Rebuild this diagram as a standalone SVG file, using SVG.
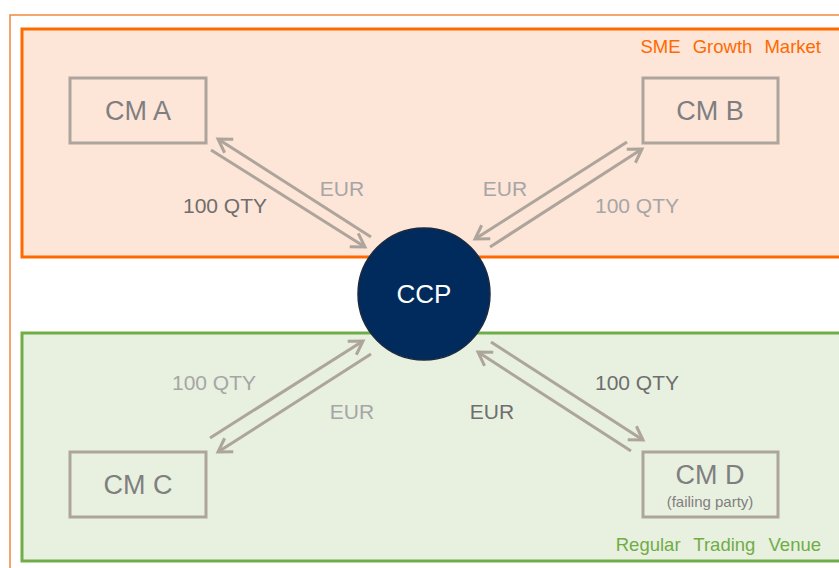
<svg xmlns="http://www.w3.org/2000/svg" width="839" height="568" viewBox="0 0 839 568">
<defs>
<marker id="ah" viewBox="-16 -10 20 20" refX="0" refY="0" markerWidth="20" markerHeight="20" markerUnits="userSpaceOnUse" orient="auto">
<path d="M-13,-8 L0,0 L-13,8" fill="none" stroke="#ADA59B" stroke-width="3"/>
</marker>
<style>
text{font-family:"Liberation Sans",Arial,sans-serif}
.box{fill:none;stroke:#ADA59B;stroke-width:3}
.cm{font-size:27px;fill:#7F7F7F;text-anchor:middle}
.ln{stroke:#ADA59B;stroke-width:3;fill:none;marker-end:url(#ah)}
.lbl{font-size:21px;text-anchor:middle}
.dk{fill:#6E6E6E}
.lt{fill:#A6A6A6}
</style>
</defs>
<rect x="10" y="15" width="840" height="560" fill="#FFFFFF" stroke="#F08A3C" stroke-width="1.5"/>
<g id="sme-zone">
<rect x="22" y="29" width="830" height="228" fill="#FDE5D8" stroke="#FF6A00" stroke-width="3"/>
<text x="821" y="53" font-size="18.5" fill="#FF6A00" text-anchor="end" word-spacing="7">SME Growth Market</text>
</g>
<g id="regular-zone">
<rect x="22" y="333" width="830" height="228" fill="#E8F0E0" stroke="#70AD47" stroke-width="3"/>
<text x="821" y="551" font-size="18.5" fill="#70AD47" text-anchor="end" word-spacing="8">Regular Trading Venue</text>
</g>
<g id="connectors">
<line class="ln" x1="371" y1="237" x2="218" y2="139"/>
<line class="ln" x1="211" y1="150" x2="365" y2="247"/>
<line class="ln" x1="627" y1="142" x2="475" y2="239"/>
<line class="ln" x1="490" y1="247" x2="642" y2="149"/>
<line class="ln" x1="210" y1="438" x2="363" y2="341"/>
<line class="ln" x1="371" y1="354" x2="218" y2="452"/>
<line class="ln" x1="631" y1="451" x2="478" y2="352"/>
<line class="ln" x1="491" y1="342" x2="643" y2="440"/>
<text class="lbl dk" x="225" y="213">100 QTY</text>
<text class="lbl lt" x="342" y="196">EUR</text>
<text class="lbl lt" x="505" y="196">EUR</text>
<text class="lbl lt" x="637" y="213">100 QTY</text>
<text class="lbl lt" x="214" y="390">100 QTY</text>
<text class="lbl lt" x="352" y="419">EUR</text>
<text class="lbl dk" x="637" y="390">100 QTY</text>
<text class="lbl dk" x="492" y="419">EUR</text>
</g>
<g id="cm-a">
<rect class="box" x="70" y="78" width="136" height="65"/>
<text class="cm" x="138" y="120">CM A</text>
</g>
<g id="cm-b">
<rect class="box" x="643" y="78" width="135" height="65"/>
<text class="cm" x="710" y="120">CM B</text>
</g>
<g id="cm-c">
<rect class="box" x="70" y="452" width="136" height="65"/>
<text class="cm" x="138" y="494">CM C</text>
</g>
<g id="cm-d">
<rect class="box" x="643" y="452" width="135" height="65"/>
<text class="cm" x="710" y="484">CM D</text>
<text x="710" y="507" font-size="15" fill="#7F7F7F" text-anchor="middle">(failing party)</text>
</g>
<g id="ccp">
<circle cx="424" cy="294" r="66" fill="#002B5C" stroke="#1B2A3E" stroke-width="1.5"/>
<text x="424" y="303" font-size="26" fill="#FFFFFF" text-anchor="middle">CCP</text>
</g>
</svg>
